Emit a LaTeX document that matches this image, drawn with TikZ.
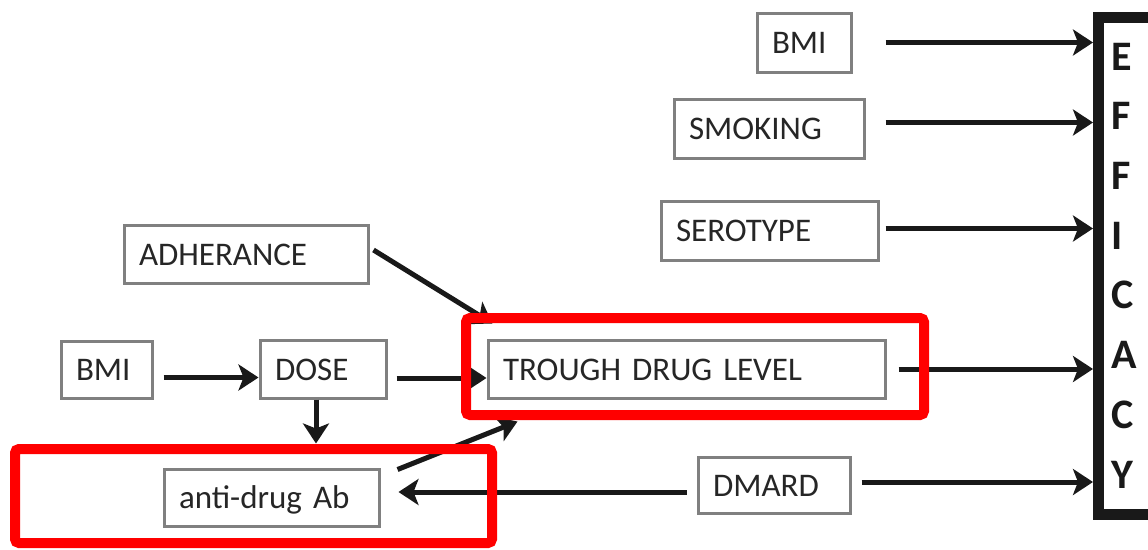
\documentclass[tikz,border=0pt]{standalone}
\usepackage{fontspec}
\setmainfont{Carlito}
\usetikzlibrary{arrows.meta}
\tikzset{
  factor/.style={draw=black!50, line width=3pt, inner xsep=15pt, inner ysep=0pt,
    align=left, text height=22pt, text depth=0pt, text=black!85,
    font=\fontsize{33}{40}\selectfont},
  flow/.style={line width=5pt, black!90, -{Stealth[length=20pt,width=26pt,inset=5pt]}},
  hilite/.style={draw=red, line width=10pt, rounded corners=4pt},
  effbox/.style={draw=black!90, line width=11pt, inner xsep=13pt, inner ysep=0pt,
    align=left, text width=40pt, minimum height=497pt, text=black!90,
    font=\fontsize{42}{59.7}\selectfont\bfseries}
}
\begin{document}
\begin{tikzpicture}[x=1pt,y=-1pt]
  \clip (0,0) rectangle (1148,549);
  \fill[white] (0,0) rectangle (1148,549);
  \node[factor, text width=64pt, minimum height=59pt] (bmitop) at (804,42.5) {BMI};
  \node[factor, text width=160pt, minimum height=59pt] (smoking) at (769,128.5) {SMOKING};
  \node[factor, text width=187pt, minimum height=59pt] (serotype) at (769.5,230.5) {SEROTYPE};
  \node[factor, text width=214pt, minimum height=58pt] (adherance) at (246,254) {ADHERANCE};
  \node[factor, text width=61pt, minimum height=57pt] (bmileft) at (106.5,369.5) {BMI};
  \node[factor, text width=96pt, minimum height=58pt] (dose) at (323,369) {DOSE};
  \node[factor, text width=367pt, minimum height=58pt] (trough) at (686.5,369) {TROUGH DRUG LEVEL};
  \node[factor, text width=185pt, minimum height=57pt] (antiab) at (271.5,497.5) {anti-drug Ab};
  \node[factor, text width=122pt, minimum height=56pt] (dmard) at (774,485) {DMARD};
  \node[effbox, anchor=west] (efficacy) at (1093,265.5) {E\\F\\F\\I\\C\\A\\C\\Y};

  \draw[flow, shorten <=33pt] (bmitop.east) -- (bmitop.east -| efficacy.west);
  \draw[flow, shorten <=20pt] ([yshift=6pt]smoking.east) -- ([yshift=6pt]smoking.east -| efficacy.west);
  \draw[flow, shorten <=6pt] ([yshift=2pt]serotype.east) -- ([yshift=2pt]serotype.east -| efficacy.west);
  \draw[flow, shorten <=12pt] (trough.east) -- (trough.east -| efficacy.west);
  \draw[flow, shorten <=10pt] ([yshift=3pt]dmard.east) -- ([yshift=3pt]dmard.east -| efficacy.west);
  \draw[flow] ([shift={(4,-4)}]adherance.east) -- ([shift={(6,-15)}]trough.north west);
  \draw[flow, shorten <=10pt] ([yshift=-8pt]bmileft.east) -- ([yshift=-8pt]bmileft.east -| dose.west);
  \draw[flow, shorten <=9pt] ([yshift=-9pt]dose.east) -- ([yshift=-9pt]dose.east -| trough.west);
  \draw[flow, shorten >=24pt] ([xshift=-7pt]dose.south) -- ([xshift=-7pt]dose.south |- antiab.north);
  \draw[flow] ([shift={(17,2)}]antiab.north east) -- ([shift={(31,22)}]trough.south west);
  \draw[flow, shorten <=10pt, shorten >=18pt] ([yshift=-7pt]dmard.west) -- ([yshift=-7pt]dmard.west -| antiab.east);

  \draw[hilite] (466,318) rectangle (924,415);
  \draw[hilite] (15,449) rectangle (492,543);
\end{tikzpicture}
\end{document}
